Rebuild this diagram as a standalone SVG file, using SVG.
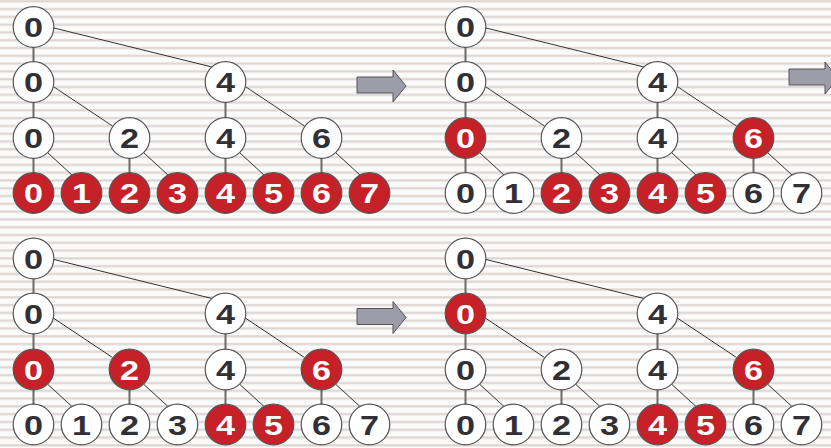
<svg xmlns="http://www.w3.org/2000/svg" xmlns:xlink="http://www.w3.org/1999/xlink" width="831" height="448" viewBox="0 0 831 448">
<style>
  .n circle{stroke:#555;stroke-width:1.2}
  .w circle{fill:#fff}
  .r circle{fill:#c62129}
  .n text{font-family:"Liberation Sans",Arial,sans-serif;font-weight:bold;font-size:28.5px;text-anchor:middle;transform-box:fill-box;transform-origin:center;transform:scaleX(1.2)}
  .w text{fill:#303036}
  .r text{fill:#fff}
  .v{stroke:#6a6a6a;stroke-width:2;fill:none}
  .d{stroke:#333;stroke-width:1;fill:none}
  .arrow{fill:#9d9ca9;stroke:#555;stroke-width:1}
</style>
<defs>
  <pattern id="stripes" patternUnits="userSpaceOnUse" x="0" y="0" width="831" height="7.79">
    <rect x="0" y="0" width="831" height="7.79" fill="#fbfbfb"/>
    <rect x="0" y="0.2" width="831" height="2.2" fill="#dcd6d3"/>
  </pattern>
  <polygon id="arr" class="arrow" points="357,77 393,77 393,70 406,86 393,102 393,93 357,93"/>
  <g id="edges">
    <line class="v" x1="33.5" y1="47" x2="33.5" y2="62"/>
    <line class="v" x1="33.5" y1="102" x2="33.5" y2="118"/>
    <line class="v" x1="225.5" y1="102" x2="225.5" y2="118"/>
    <line class="v" x1="33.5" y1="158" x2="33.5" y2="173"/>
    <line class="v" x1="129.5" y1="158" x2="129.5" y2="173"/>
    <line class="v" x1="225.5" y1="158" x2="225.5" y2="173"/>
    <line class="v" x1="321.5" y1="158" x2="321.5" y2="173"/>
    <line class="d" x1="54" y1="28" x2="212" y2="67"/>
    <line class="d" x1="54" y1="87" x2="112.5" y2="126"/>
    <line class="d" x1="246" y1="87" x2="304.5" y2="126"/>
    <line class="d" x1="48" y1="153" x2="72" y2="175"/>
    <line class="d" x1="144" y1="153" x2="168" y2="175"/>
    <line class="d" x1="240" y1="153" x2="264" y2="175"/>
    <line class="d" x1="336" y1="153" x2="360" y2="175"/>
  </g>
</defs>
<rect width="831" height="448" fill="url(#stripes)"/>

<g id="arrows">
  <use xlink:href="#arr"/>
  <use xlink:href="#arr" transform="translate(432,-8)"/>
  <use xlink:href="#arr" transform="translate(0,231.5)"/>
</g>

<g id="connectors">
  <use xlink:href="#edges"/>
  <use xlink:href="#edges" transform="translate(432,0)"/>
  <use xlink:href="#edges" transform="translate(0,231.5)"/>
  <use xlink:href="#edges" transform="translate(432,231.5)"/>
</g>

<!-- Tree A: top-left -->
<g id="treeA">
  <g id="a-root" class="n w"><circle cx="33.5" cy="27" r="20.3"/><text x="33.5" y="37.5">0</text></g>
  <g id="a-l1-0" class="n w"><circle cx="33.5" cy="82" r="20.3"/><text x="33.5" y="92.5">0</text></g>
  <g id="a-l1-4" class="n w"><circle cx="225.5" cy="82" r="20.3"/><text x="225.5" y="92.5">4</text></g>
  <g id="a-l2-0" class="n w"><circle cx="33.5" cy="138" r="20.3"/><text x="33.5" y="148.5">0</text></g>
  <g id="a-l2-2" class="n w"><circle cx="129.5" cy="138" r="20.3"/><text x="129.5" y="148.5">2</text></g>
  <g id="a-l2-4" class="n w"><circle cx="225.5" cy="138" r="20.3"/><text x="225.5" y="148.5">4</text></g>
  <g id="a-l2-6" class="n w"><circle cx="321.5" cy="138" r="20.3"/><text x="321.5" y="148.5">6</text></g>
  <g id="a-leaf-0" class="n r"><circle cx="33.5" cy="193" r="20.3"/><text x="33.5" y="203.5">0</text></g>
  <g id="a-leaf-1" class="n r"><circle cx="81.5" cy="193" r="20.3"/><text x="81.5" y="203.5">1</text></g>
  <g id="a-leaf-2" class="n r"><circle cx="129.5" cy="193" r="20.3"/><text x="129.5" y="203.5">2</text></g>
  <g id="a-leaf-3" class="n r"><circle cx="177.5" cy="193" r="20.3"/><text x="177.5" y="203.5">3</text></g>
  <g id="a-leaf-4" class="n r"><circle cx="225.5" cy="193" r="20.3"/><text x="225.5" y="203.5">4</text></g>
  <g id="a-leaf-5" class="n r"><circle cx="273.5" cy="193" r="20.3"/><text x="273.5" y="203.5">5</text></g>
  <g id="a-leaf-6" class="n r"><circle cx="321.5" cy="193" r="20.3"/><text x="321.5" y="203.5">6</text></g>
  <g id="a-leaf-7" class="n r"><circle cx="369.5" cy="193" r="20.3"/><text x="369.5" y="203.5">7</text></g>
</g>

<!-- Tree B: top-right -->
<g id="treeB" transform="translate(432,0)">
  <g id="b-root" class="n w"><circle cx="33.5" cy="27" r="20.3"/><text x="33.5" y="37.5">0</text></g>
  <g id="b-l1-0" class="n w"><circle cx="33.5" cy="82" r="20.3"/><text x="33.5" y="92.5">0</text></g>
  <g id="b-l1-4" class="n w"><circle cx="225.5" cy="82" r="20.3"/><text x="225.5" y="92.5">4</text></g>
  <g id="b-l2-0" class="n r"><circle cx="33.5" cy="138" r="20.3"/><text x="33.5" y="148.5">0</text></g>
  <g id="b-l2-2" class="n w"><circle cx="129.5" cy="138" r="20.3"/><text x="129.5" y="148.5">2</text></g>
  <g id="b-l2-4" class="n w"><circle cx="225.5" cy="138" r="20.3"/><text x="225.5" y="148.5">4</text></g>
  <g id="b-l2-6" class="n r"><circle cx="321.5" cy="138" r="20.3"/><text x="321.5" y="148.5">6</text></g>
  <g id="b-leaf-0" class="n w"><circle cx="33.5" cy="193" r="20.3"/><text x="33.5" y="203.5">0</text></g>
  <g id="b-leaf-1" class="n w"><circle cx="81.5" cy="193" r="20.3"/><text x="81.5" y="203.5">1</text></g>
  <g id="b-leaf-2" class="n r"><circle cx="129.5" cy="193" r="20.3"/><text x="129.5" y="203.5">2</text></g>
  <g id="b-leaf-3" class="n r"><circle cx="177.5" cy="193" r="20.3"/><text x="177.5" y="203.5">3</text></g>
  <g id="b-leaf-4" class="n r"><circle cx="225.5" cy="193" r="20.3"/><text x="225.5" y="203.5">4</text></g>
  <g id="b-leaf-5" class="n r"><circle cx="273.5" cy="193" r="20.3"/><text x="273.5" y="203.5">5</text></g>
  <g id="b-leaf-6" class="n w"><circle cx="321.5" cy="193" r="20.3"/><text x="321.5" y="203.5">6</text></g>
  <g id="b-leaf-7" class="n w"><circle cx="369.5" cy="193" r="20.3"/><text x="369.5" y="203.5">7</text></g>
</g>

<!-- Tree C: bottom-left -->
<g id="treeC" transform="translate(0,231.5)">
  <g id="c-root" class="n w"><circle cx="33.5" cy="27" r="20.3"/><text x="33.5" y="37.5">0</text></g>
  <g id="c-l1-0" class="n w"><circle cx="33.5" cy="82" r="20.3"/><text x="33.5" y="92.5">0</text></g>
  <g id="c-l1-4" class="n w"><circle cx="225.5" cy="82" r="20.3"/><text x="225.5" y="92.5">4</text></g>
  <g id="c-l2-0" class="n r"><circle cx="33.5" cy="138" r="20.3"/><text x="33.5" y="148.5">0</text></g>
  <g id="c-l2-2" class="n r"><circle cx="129.5" cy="138" r="20.3"/><text x="129.5" y="148.5">2</text></g>
  <g id="c-l2-4" class="n w"><circle cx="225.5" cy="138" r="20.3"/><text x="225.5" y="148.5">4</text></g>
  <g id="c-l2-6" class="n r"><circle cx="321.5" cy="138" r="20.3"/><text x="321.5" y="148.5">6</text></g>
  <g id="c-leaf-0" class="n w"><circle cx="33.5" cy="193" r="20.3"/><text x="33.5" y="203.5">0</text></g>
  <g id="c-leaf-1" class="n w"><circle cx="81.5" cy="193" r="20.3"/><text x="81.5" y="203.5">1</text></g>
  <g id="c-leaf-2" class="n w"><circle cx="129.5" cy="193" r="20.3"/><text x="129.5" y="203.5">2</text></g>
  <g id="c-leaf-3" class="n w"><circle cx="177.5" cy="193" r="20.3"/><text x="177.5" y="203.5">3</text></g>
  <g id="c-leaf-4" class="n r"><circle cx="225.5" cy="193" r="20.3"/><text x="225.5" y="203.5">4</text></g>
  <g id="c-leaf-5" class="n r"><circle cx="273.5" cy="193" r="20.3"/><text x="273.5" y="203.5">5</text></g>
  <g id="c-leaf-6" class="n w"><circle cx="321.5" cy="193" r="20.3"/><text x="321.5" y="203.5">6</text></g>
  <g id="c-leaf-7" class="n w"><circle cx="369.5" cy="193" r="20.3"/><text x="369.5" y="203.5">7</text></g>
</g>

<!-- Tree D: bottom-right -->
<g id="treeD" transform="translate(432,231.5)">
  <g id="d-root" class="n w"><circle cx="33.5" cy="27" r="20.3"/><text x="33.5" y="37.5">0</text></g>
  <g id="d-l1-0" class="n r"><circle cx="33.5" cy="82" r="20.3"/><text x="33.5" y="92.5">0</text></g>
  <g id="d-l1-4" class="n w"><circle cx="225.5" cy="82" r="20.3"/><text x="225.5" y="92.5">4</text></g>
  <g id="d-l2-0" class="n w"><circle cx="33.5" cy="138" r="20.3"/><text x="33.5" y="148.5">0</text></g>
  <g id="d-l2-2" class="n w"><circle cx="129.5" cy="138" r="20.3"/><text x="129.5" y="148.5">2</text></g>
  <g id="d-l2-4" class="n w"><circle cx="225.5" cy="138" r="20.3"/><text x="225.5" y="148.5">4</text></g>
  <g id="d-l2-6" class="n r"><circle cx="321.5" cy="138" r="20.3"/><text x="321.5" y="148.5">6</text></g>
  <g id="d-leaf-0" class="n w"><circle cx="33.5" cy="193" r="20.3"/><text x="33.5" y="203.5">0</text></g>
  <g id="d-leaf-1" class="n w"><circle cx="81.5" cy="193" r="20.3"/><text x="81.5" y="203.5">1</text></g>
  <g id="d-leaf-2" class="n w"><circle cx="129.5" cy="193" r="20.3"/><text x="129.5" y="203.5">2</text></g>
  <g id="d-leaf-3" class="n w"><circle cx="177.5" cy="193" r="20.3"/><text x="177.5" y="203.5">3</text></g>
  <g id="d-leaf-4" class="n r"><circle cx="225.5" cy="193" r="20.3"/><text x="225.5" y="203.5">4</text></g>
  <g id="d-leaf-5" class="n r"><circle cx="273.5" cy="193" r="20.3"/><text x="273.5" y="203.5">5</text></g>
  <g id="d-leaf-6" class="n w"><circle cx="321.5" cy="193" r="20.3"/><text x="321.5" y="203.5">6</text></g>
  <g id="d-leaf-7" class="n w"><circle cx="369.5" cy="193" r="20.3"/><text x="369.5" y="203.5">7</text></g>
</g>
</svg>
